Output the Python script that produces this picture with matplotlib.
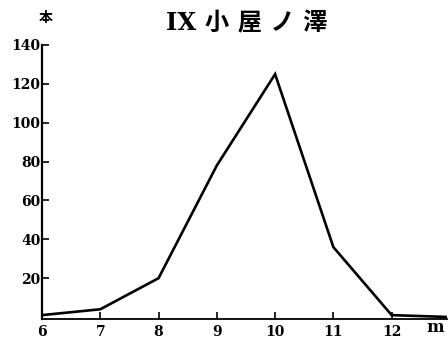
import matplotlib.pyplot as plt

months = [6, 7, 8, 9, 10, 11, 12, 13]
counts = [1, 4, 20, 78, 125, 36, 1, 0]
yticks = [20, 40, 60, 80, 100, 120, 140]
xticks = [6, 7, 8, 9, 10, 11, 12]

serif = ['DejaVu Serif']
cjk = ['Noto Sans CJK JP', 'DejaVu Sans']

fig = plt.figure(figsize=(4.48, 3.40), dpi=100)
ax = fig.add_axes([42 / 448, 21 / 340, 405 / 448, 274 / 340])

ax.plot(months, counts, color='black', lw=1.9, solid_joinstyle='miter')
ax.set_xlim(6, 12.95)
ax.set_ylim(-1, 140)

ax.spines['top'].set_visible(False)
ax.spines['right'].set_visible(False)
ax.spines['left'].set_linewidth(1.6)
ax.spines['bottom'].set_linewidth(1.3)

ax.set_yticks(yticks)
ax.set_xticks(xticks)
ax.tick_params(direction='in', length=5, width=1.2)
ax.tick_params(axis='y', pad=1)
ax.tick_params(axis='x', pad=4)
ax.set_yticklabels([str(v) for v in yticks], family=serif, fontweight='bold', fontsize=10)
ax.set_xticklabels([str(v) for v in xticks], family=serif, fontweight='bold', fontsize=10)

fig.text(435 / 448, 1 - 327 / 340, 'm', family=serif, fontweight='bold', fontsize=12,
         ha='center', va='center')
fig.text(46 / 448, 1 - 18 / 340, '本', family=cjk, fontweight='bold', fontsize=10,
         ha='center', va='center')
fig.text(247 / 448, 1 - 23 / 340, 'IX 小 屋 ノ 澤', family=['DejaVu Serif', 'Noto Sans CJK JP'],
         fontweight='bold', fontsize=17.5, ha='center', va='center')

fig.savefig('out.png', dpi=100)
